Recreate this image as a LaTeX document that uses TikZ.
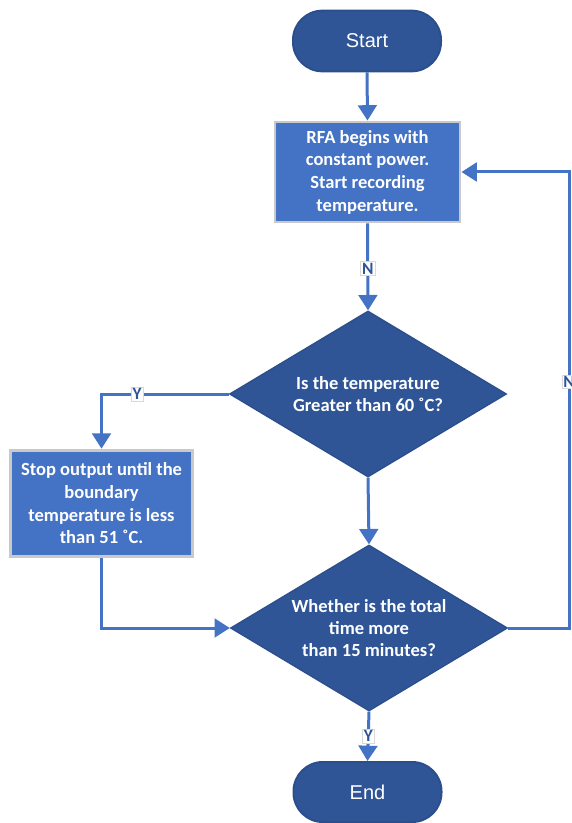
\documentclass[tikz,border=0pt]{standalone}
\usepackage{fontspec}
\setmainfont{Carlito}
\newfontfamily\arialfont{Liberation Sans}
\usetikzlibrary{arrows.meta,shapes.geometric}
\definecolor{lineblue}{HTML}{4472C4}
\definecolor{darkblue}{HTML}{2F5597}
\definecolor{darkedge}{HTML}{2B4F8C}
\definecolor{boxedge}{HTML}{C9C9C9}
\begin{document}
\begin{tikzpicture}[x=0.75pt,y=-0.75pt,
  terminal/.style={draw=darkedge,line width=1.5pt,fill=darkblue,rounded corners=22pt,
    minimum width=111pt,minimum height=45.5pt,inner sep=0pt,text=white,
    font=\arialfont\fontsize{15}{18}\selectfont},
  procbox/.style={draw=boxedge,line width=2.2pt,fill=lineblue,inner sep=0pt,
    text=white,align=center,font=\bfseries\fontsize{13.9}{17}\selectfont},
  decision/.style={diamond,draw=darkedge,line width=1pt,fill=darkblue,inner sep=0pt,
    minimum width=207.75pt,minimum height=124.5pt},
  dtext/.style={text=white,align=center,font=\bfseries\fontsize{13.9}{16.5}\selectfont},
  conn/.style={draw=lineblue,line width=2.25pt},
  arr/.style={conn,-{Triangle[width=14pt,length=11.5pt]}},
  lbl/.style={fill=white,draw=black!15,line width=0.4pt,inner sep=1pt,text=darkblue,
    font=\bfseries\fontsize{13}{14}\selectfont}]
\useasboundingbox (0,0) rectangle (571,823);
\clip (0,0) rectangle (571,823);

\node[terminal] (start) at (367,41) {Start};
\node[procbox,minimum width=138.75pt,minimum height=75pt] (r1) at (367.5,172)
  {RFA begins with\\constant power.\\Start recording\\temperature.};
\node[decision] (d1) at (368,394) {};
\node[dtext] (t1) at (368,394) {Is the temperature\\Greater than 60 ˚C?};
\node[procbox,minimum width=137pt,minimum height=80pt] (r2) at (101.5,503.5)
  {Stop output until the\\boundary\\temperature is less\\than 51 ˚C.};
\node[decision] (d2) at (369,628) {};
\node[dtext] (t2) at (369,628) {Whether is the total\\time more\\than 15 minutes?};
\node[terminal,minimum height=45pt] (end) at (367.5,792) {End};

\coordinate (rc) at (569,628);

\draw[arr] (start.south) -- (r1.north);
\draw[arr] (r1.south) -- node[lbl,pos=0.52] {N} (d1.north);
\draw[arr] (d1.west) -| node[lbl,pos=0.36] {Y} (r2.north);
\draw[arr] (d1.south) -- (d2.north);
\draw[arr] (r2.south) |- (d2.west);
\draw[arr] (d2.east) -- (rc) |- node[lbl,pos=0.27] {N} (r1.east);
\draw[arr] (d2.south) -- node[lbl,pos=0.5] {Y} (end.north);
\end{tikzpicture}
\end{document}
